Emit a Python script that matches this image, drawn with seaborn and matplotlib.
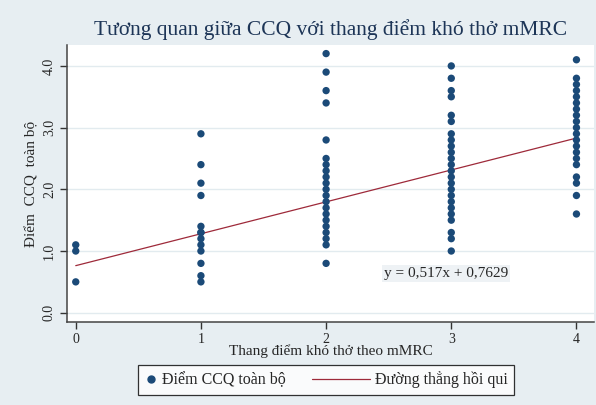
import pandas as pd
import matplotlib.pyplot as plt
import numpy as np
import seaborn as sns
from matplotlib.lines import Line2D
from matplotlib.legend_handler import HandlerLine2D

# --- data ---
grp0 = [1.1, 1.0, 0.5]
grp1 = [2.9, 2.4, 2.1, 1.9, 1.4, 1.3, 1.3, 1.2, 1.1, 1.0, 0.8, 0.6, 0.5]
grp2 = [4.2, 3.9, 3.6, 3.4, 2.8, 2.5, 2.4, 2.3, 2.2, 2.1, 2.0, 1.9, 1.8,
        1.7, 1.6, 1.5, 1.4, 1.3, 1.2, 1.1, 0.8]
grp3 = [4.0, 3.8, 3.6, 3.5, 3.2, 3.1, 2.9, 2.8, 2.7, 2.6, 2.5, 2.4, 2.3,
        2.2, 2.1, 2.0, 1.9, 1.8, 1.7, 1.6, 1.5, 1.3, 1.2, 1.0]
grp4 = [4.1, 3.8, 3.7, 3.6, 3.5, 3.4, 3.3, 3.2, 3.1, 3.0, 2.9, 2.8, 2.7,
        2.6, 2.5, 2.4, 2.2, 2.1, 1.9, 1.6]
mmrc_levels = [0, 1, 2, 3, 4]
slope = 0.517
intercept = 0.7629
eq_label = "y = 0,517x + 0,7629"

groups = [grp0, grp1, grp2, grp3, grp4]
df = pd.DataFrame({
    "mmrc": np.concatenate([[lv] * len(g) for lv, g in zip(mmrc_levels, groups)]),
    "ccq": np.concatenate(groups),
})
fit = pd.DataFrame({"mmrc": [min(mmrc_levels), max(mmrc_levels)]})
fit["ccq"] = intercept + slope * fit["mmrc"]

bg = "#e7eef2"
dot_col = "#1b4a78"
line_col = "#9e2a3a"


# legend line that reaches back into the column gap (Stata-style key)
class LongLine(HandlerLine2D):
    def get_xdata(self, legend, xdescent, ydescent, width, height, fontsize):
        return (np.array([width - 42.0, width]) - xdescent,
                np.array([width - 21.0]) - xdescent)


sns.set_style("ticks")
plt.rcParams["font.family"] = ["Liberation Serif", "DejaVu Serif"]

fig = plt.figure(figsize=(5.96, 4.05), dpi=100, facecolor=bg)
ax = fig.add_axes([0.1124, 0.205, 0.8842, 0.684])
ax.set_facecolor("white")

for yv in [0, 1, 2, 3, 4]:
    ax.axhline(yv, color="#e2ebef", lw=1.0, zorder=0)

sns.scatterplot(data=df, x="mmrc", y="ccq", ax=ax, color=dot_col, s=28,
                edgecolor="none", zorder=3)
sns.lineplot(data=fit, x="mmrc", y="ccq", ax=ax, color=line_col, lw=0.9,
             zorder=2)

ax.set_xlim(-0.07, 4.14)
ax.set_ylim(-0.15, 4.34)
ax.set_xticks(mmrc_levels)
ax.set_yticks([0, 1, 2, 3, 4])
ax.set_yticklabels([f"{v:.1f}" for v in [0, 1, 2, 3, 4]], rotation=90,
                   va="center", fontsize=10)
ax.set_xticklabels([str(v) for v in mmrc_levels], fontsize=10)
ax.tick_params(length=5, width=1, color="#333333", pad=3)

for side in ["top", "right"]:
    ax.spines[side].set_visible(False)
for side in ["left", "bottom"]:
    ax.spines[side].set_color("#444444")
    ax.spines[side].set_linewidth(1.1)

ax.set_xlabel("Thang điểm khó thở theo mMRC", fontsize=11, labelpad=-1)
ax.set_ylabel("Điểm  CCQ  toàn bộ", fontsize=11, labelpad=3)
ax.set_title("Tương quan giữa CCQ với thang điểm khó thở mMRC",
             fontsize=15.5, color="#1d3557", pad=7)

ax.text(2.46, 0.63, eq_label, fontsize=11, va="center", ha="left",
        bbox=dict(facecolor="#eef2f5", edgecolor="none", pad=1.5))

dot_handle = Line2D([], [], marker="o", color=dot_col, linestyle="None",
                    markersize=5)
line_handle = Line2D([], [], color=line_col, lw=0.9)
leg = fig.legend([dot_handle, line_handle],
                 ["Điểm CCQ toàn bộ", "Đường thẳng hồi qui"],
                 handler_map={line_handle: LongLine()},
                 loc="center", bbox_to_anchor=(0.547, 0.062), ncol=2,
                 frameon=True, fancybox=False, fontsize=11.5,
                 handlelength=0.8, columnspacing=4.5, handletextpad=0.3,
                 borderpad=0.4)
leg.get_frame().set_edgecolor("black")
leg.get_frame().set_linewidth(0.9)

fig.savefig("out.png", dpi=100, facecolor=bg)
